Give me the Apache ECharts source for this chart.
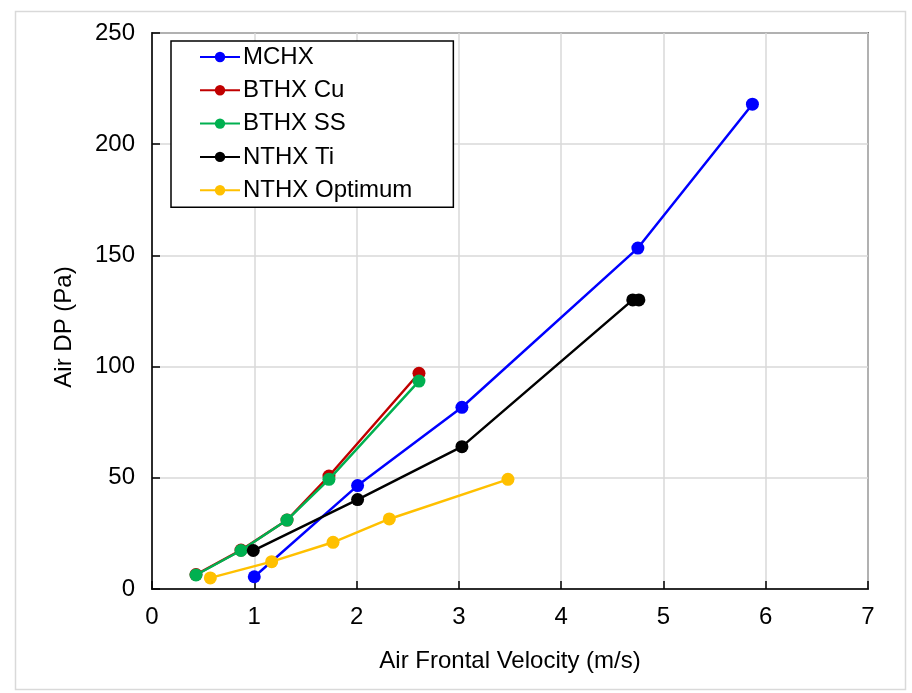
<!DOCTYPE html>
<html>
<head>
<meta charset="utf-8">
<script src="https://cdn.jsdelivr.net/npm/echarts@6/dist/echarts.min.js"></script>
<style>html,body{margin:0;padding:0;background:#fff;}#c{width:912px;height:693px;}</style>
</head>
<body>
<div id="c"></div>
<script>
const seriesNames = ['MCHX', 'BTHX Cu', 'BTHX SS', 'NTHX Ti', 'NTHX Optimum'];
const seriesColors = ['#0000FF', '#C00000', '#00B050', '#000000', '#FFC000'];
const mchxX = [1.0, 2.01, 3.03, 4.75, 5.87];
const mchxY = [5.5, 46.5, 81.7, 153.3, 218];
const bthxCuX = [0.43, 0.87, 1.32, 1.73, 2.61];
const bthxCuY = [6.5, 17.5, 31.0, 50.8, 97.0];
const bthxSsX = [0.43, 0.87, 1.32, 1.73, 2.61];
const bthxSsY = [6.3, 17.3, 31.0, 49.3, 93.5];
const nthxTiX = [0.99, 2.01, 3.03, 4.70, 4.76];
const nthxTiY = [17.3, 40.2, 64.0, 130.0, 130.0];
const nthxOptX = [0.57, 1.17, 1.77, 2.32, 3.48];
const nthxOptY = [5.0, 12.3, 21.0, 31.5, 49.3];
const xTicks = [0, 1, 2, 3, 4, 5, 6, 7];
const yTicks = [0, 50, 100, 150, 200, 250];

const xs = [mchxX, bthxCuX, bthxSsX, nthxTiX, nthxOptX];
const ys = [mchxY, bthxCuY, bthxSsY, nthxTiY, nthxOptY];
const font = 'Liberation Sans, Arial, sans-serif';

const chart = echarts.init(document.getElementById('c'), null, {renderer: 'canvas'});
chart.setOption({
  animation: false,
  backgroundColor: '#fff',
  graphic: [{
    type: 'rect', left: 13, top: 9, shape: {width: 890, height: 678},
    style: {fill: 'none', stroke: '#d9d9d9', lineWidth: 1.5}, silent: true, z: -10
  }],
  grid: {left: 152, right: 44, top: 33, bottom: 104, show: true, borderColor: '#000', borderWidth: 1.5, backgroundColor: 'transparent'},
  legend: {
    orient: 'vertical', left: 171, top: 41,
    data: seriesNames,
    itemWidth: 40, itemHeight: 13, itemGap: 9.3,
    padding: [4, 41, 5, 28],
    borderColor: '#000', borderWidth: 1.5, backgroundColor: '#fff',
    textStyle: {fontFamily: font, fontSize: 24, color: '#000', lineHeight: 24, padding: [0, 0, 0, -2]}
  },
  xAxis: {
    type: 'value', min: xTicks[0], max: xTicks[xTicks.length - 1], interval: 1,
    name: 'Air Frontal Velocity (m/s)', nameLocation: 'middle', nameGap: 60,
    nameTextStyle: {fontFamily: font, fontSize: 24, color: '#000'},
    axisLine: {show: true, lineStyle: {color: '#000', width: 1.5}},
    axisTick: {show: true, inside: true, length: 8, lineStyle: {color: '#000', width: 1.5}},
    axisLabel: {fontFamily: font, fontSize: 24, color: '#000', margin: 16},
    splitLine: {show: true, lineStyle: {color: '#d9d9d9', width: 1.5}}
  },
  yAxis: {
    type: 'value', min: yTicks[0], max: yTicks[yTicks.length - 1], interval: 50,
    name: 'Air DP (Pa)', nameLocation: 'middle', nameGap: 76, nameRotate: 90,
    nameTextStyle: {fontFamily: font, fontSize: 24, color: '#000', padding: [0, 32, 0, 0]},
    axisLine: {show: true, lineStyle: {color: '#000', width: 1.5}},
    axisTick: {show: true, inside: true, length: 8, lineStyle: {color: '#000', width: 1.5}},
    axisLabel: {fontFamily: font, fontSize: 24, color: '#000', margin: 17},
    splitLine: {show: true, lineStyle: {color: '#d9d9d9', width: 1.5}}
  },
  series: seriesNames.map((n, i) => ({
    name: n, type: 'line',
    data: xs[i].map((x, j) => [x, ys[i][j]]),
    symbol: 'circle', symbolSize: 13,
    lineStyle: {color: seriesColors[i], width: 2.5},
    itemStyle: {color: seriesColors[i]},
    z: 2 + i
  }))
});
</script>
</body>
</html>
